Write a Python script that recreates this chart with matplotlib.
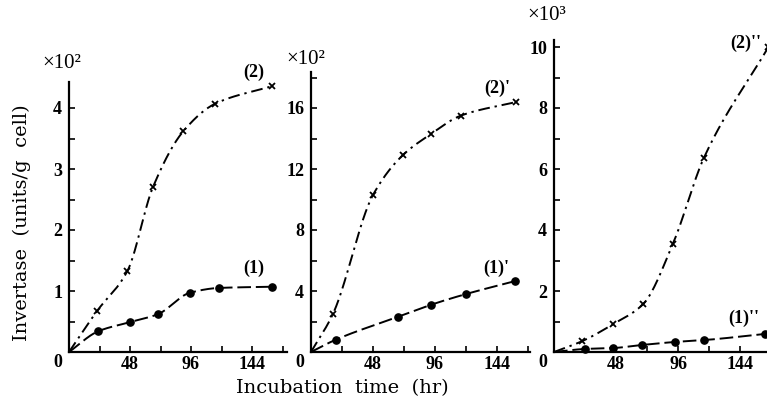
import numpy as np
import matplotlib
matplotlib.use("Agg")
import matplotlib.pyplot as plt
from matplotlib.ticker import MultipleLocator, FixedLocator

# ---- data (incubation time in hr, invertase activity) ----
# Panel A (x10^2 units/g cell)
a1_hr = [23, 48, 70, 95, 118, 160]
a1_val = [0.34, 0.49, 0.62, 0.97, 1.05, 1.07]
a2_hr = [22, 46, 66, 90, 115, 160]
a2_val = [0.67, 1.33, 2.70, 3.62, 4.07, 4.36]

# Panel B (x10^2 units/g cell)
b1_hr = [19, 67, 93, 120, 158]
b1_val = [0.8, 2.3, 3.1, 3.8, 4.65]
b2_hr = [17, 48, 71, 93, 116, 159]
b2_val = [2.5, 10.3, 12.9, 14.3, 15.5, 16.4]

# Panel C (x10^3 units/g cell)
c1_hr = [24, 46, 68, 94, 116, 163]
c1_val = [0.10, 0.13, 0.23, 0.33, 0.39, 0.59]
c2_hr = [22, 46, 69, 92, 116, 166]
c2_val = [0.36, 0.92, 1.57, 3.54, 6.36, 10.0]

labels_a = ["(1)", "(2)"]
labels_b = ["(1)'", "(2)'"]
labels_c = ["(1)''", "(2)''"]


def pchip(x, y, xs):
    """Monotone cubic Hermite curve through (x, y), evaluated at xs."""
    x = np.asarray(x, float)
    y = np.asarray(y, float)
    h = np.diff(x)
    d = np.diff(y) / h
    m = np.zeros_like(y)
    for k in range(1, len(x) - 1):
        if d[k - 1] * d[k] > 0:
            w1 = 2 * h[k] + h[k - 1]
            w2 = h[k] + 2 * h[k - 1]
            m[k] = (w1 + w2) / (w1 / d[k - 1] + w2 / d[k])
    m[0] = d[0]
    m[-1] = d[-1]
    idx = np.clip(np.searchsorted(x, xs) - 1, 0, len(h) - 1)
    t = (xs - x[idx]) / h[idx]
    h00 = 2 * t**3 - 3 * t**2 + 1
    h10 = t**3 - 2 * t**2 + t
    h01 = -2 * t**3 + 3 * t**2
    h11 = t**3 - t**2
    return (h00 * y[idx] + h10 * h[idx] * m[idx]
            + h01 * y[idx + 1] + h11 * h[idx] * m[idx + 1])


W, H = 767, 405
fig = plt.figure(figsize=(W / 100, H / 100), dpi=100)
fig.patch.set_facecolor("white")

SERIF = ["Liberation Serif", "DejaVu Serif"]
TICKFONT = dict(family=SERIF, size=13, weight="bold")
LABFONT = dict(family=["DejaVu Serif"], size=14)

dash1 = (0, (7, 2.5))
dash2 = (0, (6, 2.5, 1.2, 2.5))


def px_axes(left, right, top, bottom=352):
    return fig.add_axes([left / W, (H - bottom) / H,
                         (right - left) / W, (bottom - top) / H])


def style(ax, xmax, ymax, ymaj, ymin):
    ax.set_xlim(0, xmax)
    ax.set_ylim(0, ymax)
    for s in ("top", "right"):
        ax.spines[s].set_visible(False)
    for s in ("left", "bottom"):
        ax.spines[s].set_linewidth(1.6)
    ax.xaxis.set_major_locator(FixedLocator([48, 96, 144]))
    ax.xaxis.set_minor_locator(FixedLocator([24, 72, 120, 168]))
    ax.yaxis.set_major_locator(MultipleLocator(ymaj))
    ax.yaxis.set_minor_locator(MultipleLocator(ymin))
    ax.tick_params(which="both", direction="in", length=4, width=1.2)
    ax.tick_params(axis="x", pad=3)
    ax.tick_params(axis="y", pad=5)
    ax.set_yticks([t for t in ax.get_yticks() if 0 < t <= ymax])
    ax.set_yticklabels([f"{t:g}" for t in ax.get_yticks()])
    for lab in ax.get_xticklabels() + ax.get_yticklabels():
        lab.set_fontfamily(SERIF)
        lab.set_fontsize(13)
        lab.set_fontweight("bold")
    ax.annotate("0", xy=(0, 0), xycoords="data", xytext=(-8, -7.5),
                textcoords="offset points", ha="center", va="center",
                **TICKFONT)


def draw(ax, hr, val, marker, ls):
    xs = np.linspace(0, hr[-1], 400)
    ys = pchip([0] + hr, [0] + val, xs)
    ax.plot(xs, ys, color="black", lw=1.4, ls=ls)
    if marker == "o":
        ax.plot(hr, val, "o", color="black", ms=5.2, clip_on=False)
    else:
        ax.plot(hr, val, "x", color="black", ms=5, mew=1.3, clip_on=False)


def series_label(x, y, s):
    fig.text(x / W, 1 - y / H, s, ha="center", va="center",
             family=SERIF, size=13, weight="bold")


# Panel A
ax1 = px_axes(69, 287, 82)
style(ax1, 218 / 61 * 48, 270 / 61, 1, 0.5)
draw(ax1, a1_hr, a1_val, "o", dash1)
draw(ax1, a2_hr, a2_val, "x", dash2)
fig.text(42 / W, 1 - 63 / H, "×10²", ha="left", va="center",
         family=SERIF, size=15)
series_label(254, 72, labels_a[1])
series_label(254, 268, labels_a[0])

# Panel B
ax2 = px_axes(311, 530, 72)
style(ax2, 219 / 31 * 24, 280 / 15.25, 4, 2)
draw(ax2, b1_hr, b1_val, "o", dash1)
draw(ax2, b2_hr, b2_val, "x", dash2)
fig.text(286 / W, 1 - 60 / H, "×10²", ha="left", va="center",
         family=SERIF, size=15)
series_label(497, 88, labels_b[1])
series_label(496, 268, labels_b[0])

# Panel C
ax3 = px_axes(554, 767, 40)
style(ax3, 213 / 62 * 48, 312 / 30.5, 2, 1)
draw(ax3, c1_hr, c1_val, "o", dash1)
draw(ax3, c2_hr, c2_val, "x", dash2)
fig.text(527 / W, 1 - 15 / H, "×10³", ha="left", va="center",
         family=SERIF, size=15)
series_label(746, 43, labels_c[1])
series_label(744, 318, labels_c[0])

# shared axis titles
fig.text(22 / W, 1 - 223 / H, "Invertase  (units/g  cell)", rotation=90,
         ha="center", va="center", **LABFONT)
fig.text(342 / W, 1 - 388 / H, "Incubation  time  (hr)", ha="center",
         va="center", **LABFONT)

fig.savefig("out.png", dpi=100, facecolor="white")
